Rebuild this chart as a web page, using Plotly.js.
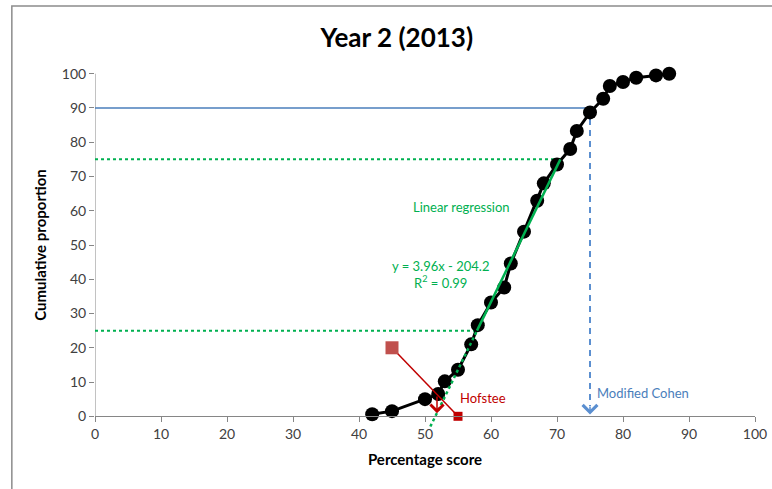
<!DOCTYPE html>
<html>
<head>
<meta charset="utf-8">
<script src="https://cdn.plot.ly/plotly-3.0.1.min.js"></script>
<style>
  html, body { margin: 0; padding: 0; background: #fff; }
  #chart { width: 772px; height: 489px; }
</style>
</head>
<body>
<div id="chart"></div>
<script>
// Cumulative score distribution, Year 2 (2013)
const scores = [42, 45, 50, 52, 53, 55, 57, 58, 60, 62, 63, 65, 67, 68, 70, 72, 73, 75, 77, 78, 80, 82, 85, 87];
const cumulative = [0.6, 1.5, 5, 6.5, 10.2, 13.6, 21, 26.6, 33.2, 37.6, 44.6, 53.9, 62.9, 68, 73.5, 78, 83.3, 88.7, 92.7, 96.4, 97.6, 98.8, 99.5, 100];

// Linear regression fitted over the 25–75 band
const regSlope = 3.96;
const regIntercept = -204.2;
const regR2 = 0.99;
const regBand = [25, 75];
const regExtendTo = -3;

// Hofstee line endpoints (score, cumulative proportion)
const hofsteeX = [45, 55];
const hofsteeY = [20, 0];

// Modified Cohen: cut score and reference level
const cohenCut = 75;
const cohenLevel = 90;

const xTicks = [0, 10, 20, 30, 40, 50, 60, 70, 80, 90, 100];
const yTicks = [0, 10, 20, 30, 40, 50, 60, 70, 80, 90, 100];

const GREEN = '#00b050';
const BLUE = '#4a7ebb';
const RED = '#c00000';
const FONT = 'Lato, "Open Sans", sans-serif';

const xAt = y => (y - regIntercept) / regSlope;
const regLo = xAt(regBand[0]);
const regHi = xAt(regBand[1]);
const regLow = xAt(regExtendTo);

// where the Hofstee line crosses the cumulative curve
function hofsteeCrossing() {
  const m = (hofsteeY[1] - hofsteeY[0]) / (hofsteeX[1] - hofsteeX[0]);
  const h = x => hofsteeY[0] + m * (x - hofsteeX[0]);
  for (let i = 0; i < scores.length - 1; i++) {
    const x0 = scores[i], x1 = scores[i + 1];
    const d0 = cumulative[i] - h(x0), d1 = cumulative[i + 1] - h(x1);
    if (d0 === 0) return [x0, cumulative[i]];
    if (d0 * d1 < 0) {
      const t = d0 / (d0 - d1);
      const x = x0 + t * (x1 - x0);
      return [x, h(x)];
    }
  }
  return [hofsteeX[0], hofsteeY[0]];
}
const [hofX, hofY] = hofsteeCrossing();

const traces = [
  // dotted guide lines at the regression band limits
  { x: [0, regLo], y: [regBand[0], regBand[0]], mode: 'lines',
    line: { color: GREEN, width: 2, dash: 'dot' }, hoverinfo: 'skip' },
  { x: [0, regHi], y: [regBand[1], regBand[1]], mode: 'lines',
    line: { color: GREEN, width: 2, dash: 'dot' }, hoverinfo: 'skip' },
  // Modified Cohen reference level and cut
  { x: [0, cohenCut], y: [cohenLevel, cohenLevel], mode: 'lines',
    line: { color: BLUE, width: 1.5 }, hoverinfo: 'skip' },
  { x: [cohenCut, cohenCut], y: [cohenLevel, 3], mode: 'lines',
    line: { color: '#5b8fd0', width: 2, dash: '6px,5px' }, hoverinfo: 'skip' },
  // cumulative curve
  { x: scores, y: cumulative, mode: 'lines+markers', cliponaxis: false,
    line: { color: '#000', width: 3 },
    marker: { color: '#000', size: 14 } },
  // regression line
  { x: [regLow, regLo], y: [regExtendTo, regBand[0]], mode: 'lines',
    line: { color: GREEN, width: 2.5, dash: 'dot' }, hoverinfo: 'skip' },
  { x: [regLo, regHi], y: [regBand[0], regBand[1]], mode: 'lines',
    line: { color: GREEN, width: 2.5 }, hoverinfo: 'skip' },
  // Hofstee line
  { x: hofsteeX, y: hofsteeY, mode: 'lines', cliponaxis: false,
    line: { color: RED, width: 1.5 }, hoverinfo: 'skip' },
  { x: [hofsteeX[0]], y: [hofsteeY[0]], mode: 'markers', cliponaxis: false,
    marker: { symbol: 'square', size: 13, color: '#c0504d' }, hoverinfo: 'skip' },
  { x: [hofsteeX[1]], y: [hofsteeY[1]], mode: 'markers', cliponaxis: false,
    marker: { symbol: 'square', size: 9, color: RED }, hoverinfo: 'skip' }
];

const layout = {
  width: 772, height: 489,
  margin: { l: 95, r: 17, t: 60, b: 59 },
  paper_bgcolor: '#fff', plot_bgcolor: 'rgba(0,0,0,0)',
  showlegend: false,
  font: { family: FONT, color: '#404040', size: 14 },
  title: {
    text: '<b>Year 2 (2013)</b>',
    font: { family: FONT, size: 26, color: '#000' },
    xref: 'container', x: 0.514, xanchor: 'center',
    yref: 'container', y: 0.922, yanchor: 'middle'
  },
  xaxis: {
    range: [0, 100], tickvals: xTicks, ticktext: xTicks.map(String),
    anchor: 'free', position: 4 / 108,
    showline: true, linecolor: '#868686', linewidth: 1,
    ticks: 'outside', ticklen: 5, tickcolor: '#868686',
    showgrid: false, zeroline: false,
    tickfont: { family: FONT, size: 14, color: '#404040' },
    title: { text: '<b>Percentage score</b>', standoff: 13,
             font: { family: FONT, size: 15, color: '#000' } }
  },
  yaxis: {
    range: [-4, 104], tickvals: yTicks, ticktext: yTicks.map(String),
    showline: false,
    ticks: 'outside', ticklen: 5, tickcolor: '#868686',
    showgrid: false, zeroline: false,
    tickfont: { family: FONT, size: 14, color: '#404040' },
    title: { text: '<b>Cumulative proportion</b>', standoff: 11,
             font: { family: FONT, size: 15, color: '#000' } }
  },
  shapes: [
    // vertical axis line spanning 0–100
    { type: 'line', xref: 'x', yref: 'y', x0: 0, x1: 0, y0: 0, y1: 100,
      line: { color: '#868686', width: 1 }, layer: 'below' },
    // chart frame
    { type: 'rect', xref: 'paper', yref: 'paper',
      x0: -0.126, x1: 1.06, y0: -0.2, y1: 1.146,
      line: { color: '#8c8c8c', width: 1.5 }, fillcolor: 'rgba(0,0,0,0)' }
  ],
  annotations: [
    { x: 55.6, y: 61.1, xref: 'x', yref: 'y', text: 'Linear regression',
      showarrow: false, font: { family: FONT, size: 13, color: GREEN } },
    { x: 52.4, y: 41.3, xref: 'x', yref: 'y',
      text: 'y = ' + regSlope.toFixed(2) + 'x - ' + Math.abs(regIntercept).toFixed(1) +
            '<br>R<sup>2</sup> = ' + regR2.toFixed(2),
      showarrow: false, align: 'center',
      font: { family: FONT, size: 13, color: GREEN } },
    { x: 55, y: 5.3, xref: 'x', yref: 'y', text: 'Hofstee',
      xanchor: 'left', showarrow: false,
      font: { family: FONT, size: 13, color: RED } },
    { x: cohenCut + 0.8, y: 6.8, xref: 'x', yref: 'y', text: 'Modified Cohen',
      xanchor: 'left', showarrow: false,
      font: { family: FONT, size: 13, color: BLUE } },
    // arrow heads
    { x: cohenCut, y: 0.5, xref: 'x', yref: 'y', text: ' ',
      font: { size: 1 },
      showarrow: true, arrowhead: 4, arrowsize: 1.9, arrowwidth: 1.5,
      arrowcolor: '#5b8fd0', ax: 0, ay: -10 },
    { x: hofX, y: 0.9, xref: 'x', yref: 'y', text: ' ',
      font: { size: 1 },
      axref: 'x', ayref: 'y', ax: hofX, ay: hofY,
      showarrow: true, arrowhead: 4, arrowsize: 1.7, arrowwidth: 1.5,
      arrowcolor: RED }
  ]
};

Plotly.newPlot('chart', traces, layout, { displayModeBar: false, staticPlot: true });
</script>
</body>
</html>
